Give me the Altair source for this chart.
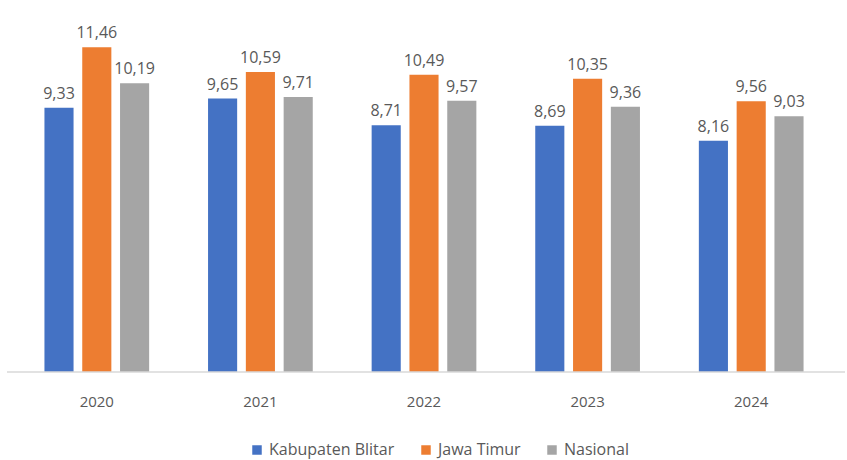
import altair as alt
import pandas as pd

years = ["2020", "2021", "2022", "2023", "2024"]
series = ["Kabupaten Blitar", "Jawa Timur", "Nasional"]
kab_blitar = [9.33, 9.65, 8.71, 8.69, 8.16]
jawa_timur = [11.46, 10.59, 10.49, 10.35, 9.56]
nasional = [10.19, 9.71, 9.57, 9.36, 9.03]
colors = ["#4472C4", "#ED7D31", "#A5A5A5"]

rows = []
for name, vals in zip(series, [kab_blitar, jawa_timur, nasional]):
    for y, v in zip(years, vals):
        rows.append({"Tahun": y, "Seri": name, "Nilai": v,
                     "Label": f"{v:.2f}".replace(".", ",")})
df = pd.DataFrame(rows)

FONT = "Open Sans"
W, H = 818, 340

base = alt.Chart(df).encode(
    x=alt.X("Tahun:N", sort=years,
            scale=alt.Scale(paddingInner=0.36, paddingOuter=0.18),
            axis=alt.Axis(title=None, ticks=False, domain=False, labelAngle=0,
                          labelPadding=22, labelFontSize=15, labelColor="#595959",
                          labelFont=FONT, grid=False)),
    xOffset=alt.XOffset("Seri:N", sort=series,
                        scale=alt.Scale(paddingInner=0.23, paddingOuter=0)),
    y=alt.Y("Nilai:Q", scale=alt.Scale(domain=[0, 12], nice=False, zero=True),
            axis=None),
)

bars = base.mark_bar().encode(
    color=alt.Color("Seri:N", sort=series,
                    scale=alt.Scale(domain=series, range=colors),
                    legend=alt.Legend(title=None, orient="none", direction="horizontal",
                                      legendX=234, legendY=410, symbolType="square",
                                      symbolSize=90, symbolStrokeWidth=0,
                                      labelFontSize=16, labelColor="#595959",
                                      labelFont=FONT, columnPadding=23,
                                      symbolOffset=0, labelOffset=4))
)

labels = base.mark_text(baseline="bottom", dy=-6, fontSize=16, color="#595959",
                        font=FONT).encode(text="Label:N")

axis_line = alt.Chart(pd.DataFrame({"a": [0]})).mark_rule(
    color="#D9D9D9", strokeWidth=1.5).encode(
    x=alt.value(-8), x2=alt.value(W + 12), y=alt.value(H))

chart = alt.layer(bars, labels, axis_line).properties(
    width=W, height=H,
    background="white",
    autosize=alt.AutoSizeParams(type="none"),
    padding={"left": 15, "top": 32, "right": 14, "bottom": 88},
).configure_view(strokeWidth=0, stroke=None)

chart.save("out.html", embed_options={"renderer": "svg", "actions": False})
